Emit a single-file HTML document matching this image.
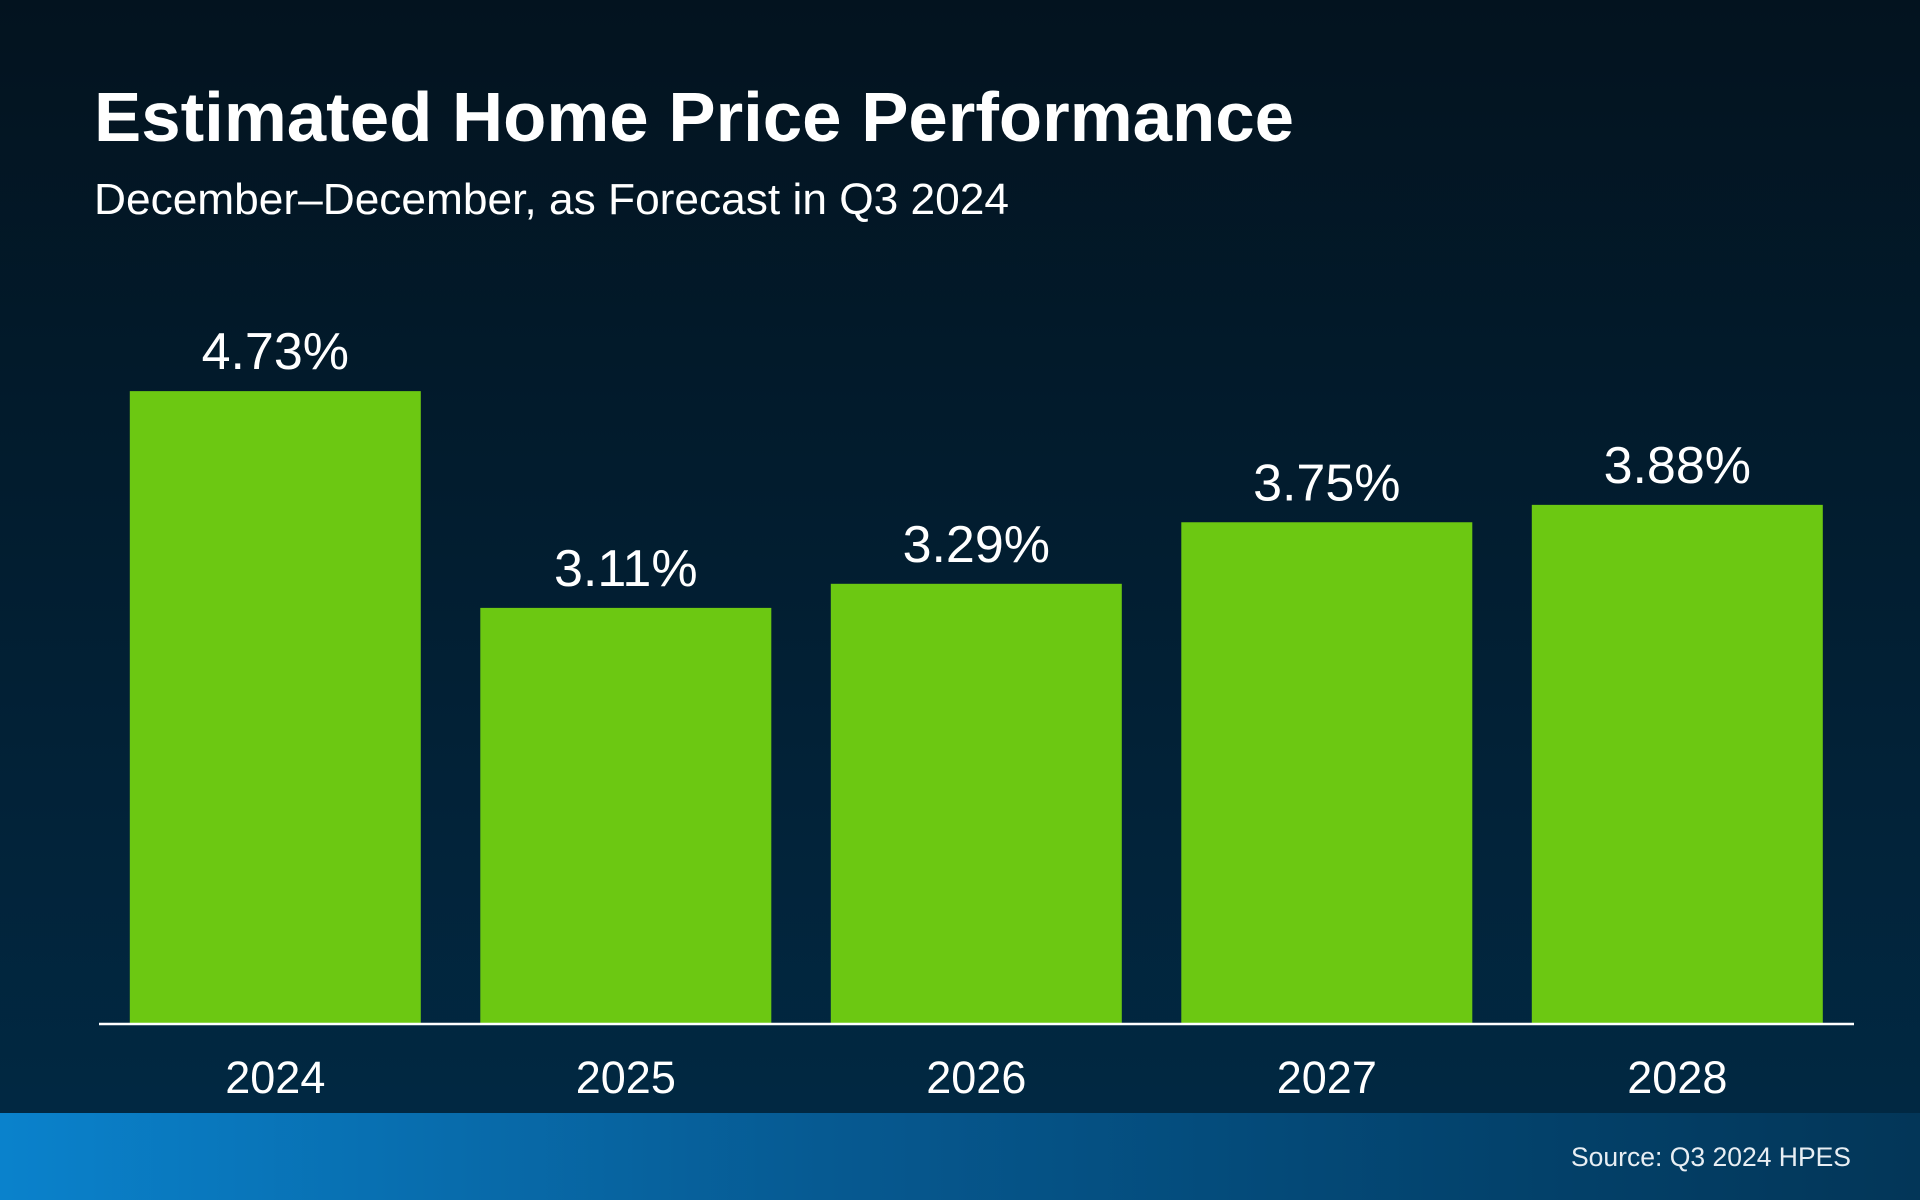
<!DOCTYPE html>
<html><head><meta charset="utf-8"><style>
html,body{margin:0;padding:0;width:1920px;height:1200px;overflow:hidden;background:#021a2b}
svg{display:block;font-family:"Liberation Sans",Arial,sans-serif}
</style></head><body>
<svg id="chart" width="1920" height="1200" viewBox="0 0 1920 1200">
<defs>
<linearGradient id="bg" x1="0" y1="0" x2="0" y2="1">
<stop offset="0" stop-color="#03131f"/><stop offset="1" stop-color="#012a45"/></linearGradient>
<linearGradient id="ft" x1="0" y1="0" x2="1" y2="0">
<stop offset="0" stop-color="#0a82cc"/><stop offset="0.45" stop-color="#06588f"/><stop offset="0.75" stop-color="#03446f"/><stop offset="1" stop-color="#033658"/></linearGradient>
</defs>
<rect x="0" y="0" width="1920" height="1200" fill="url(#bg)"/>
<rect x="0" y="1113" width="1920" height="87" fill="url(#ft)"/>
<text x="94" y="141" font-size="70" font-weight="bold" fill="#fff" textLength="1200" lengthAdjust="spacingAndGlyphs">Estimated Home Price Performance</text>
<text x="94" y="214" font-size="44" fill="#fff" textLength="915" lengthAdjust="spacingAndGlyphs">December–December, as Forecast in Q3 2024</text>
<text x="1851" y="1166" font-size="27" fill="#e8eef3" text-anchor="end" textLength="280" lengthAdjust="spacingAndGlyphs">Source: Q3 2024 HPES</text>
<g id="bars"></g>
<line x1="99" y1="1024" x2="1854" y2="1024" stroke="#fff" stroke-width="2.5"/>
</svg>
<script>
const categories = ["2024","2025","2026","2027","2028"];
const values = [4.73, 3.11, 3.29, 3.75, 3.88];
const valueLabels = ["4.73%","3.11%","3.29%","3.75%","3.88%"];

const NS = "http://www.w3.org/2000/svg";
const baseY = 1024, pxPerUnit = 133.8;
const firstX = 129.8, pitch = 350.5, barW = 291;
function xPos(i){ return firstX + i*pitch; }
function yPos(v){ return baseY - v*pxPerUnit; }
const g = document.getElementById("bars");
categories.forEach((c,i)=>{
  const v = values[i];
  const r = document.createElementNS(NS,"rect");
  r.setAttribute("x", xPos(i));
  r.setAttribute("y", yPos(v));
  r.setAttribute("width", barW);
  r.setAttribute("height", baseY - yPos(v));
  r.setAttribute("fill", "#6cc812");
  
  
  g.appendChild(r);
  const t = document.createElementNS(NS,"text");
  t.setAttribute("x", xPos(i) + barW/2);
  t.setAttribute("y", yPos(v) - 22);
  t.setAttribute("text-anchor","middle");
  t.setAttribute("font-size","52");
  t.setAttribute("fill","#fff");
  t.textContent = valueLabels[i];
  
  
  g.appendChild(t);
  const yl = document.createElementNS(NS,"text");
  yl.setAttribute("x", xPos(i) + barW/2);
  yl.setAttribute("y", 1093);
  yl.setAttribute("text-anchor","middle");
  yl.setAttribute("font-size","45");
  yl.setAttribute("fill","#fff");
  yl.textContent = c;
  
  
  g.appendChild(yl);
});
</script>
</body></html>
